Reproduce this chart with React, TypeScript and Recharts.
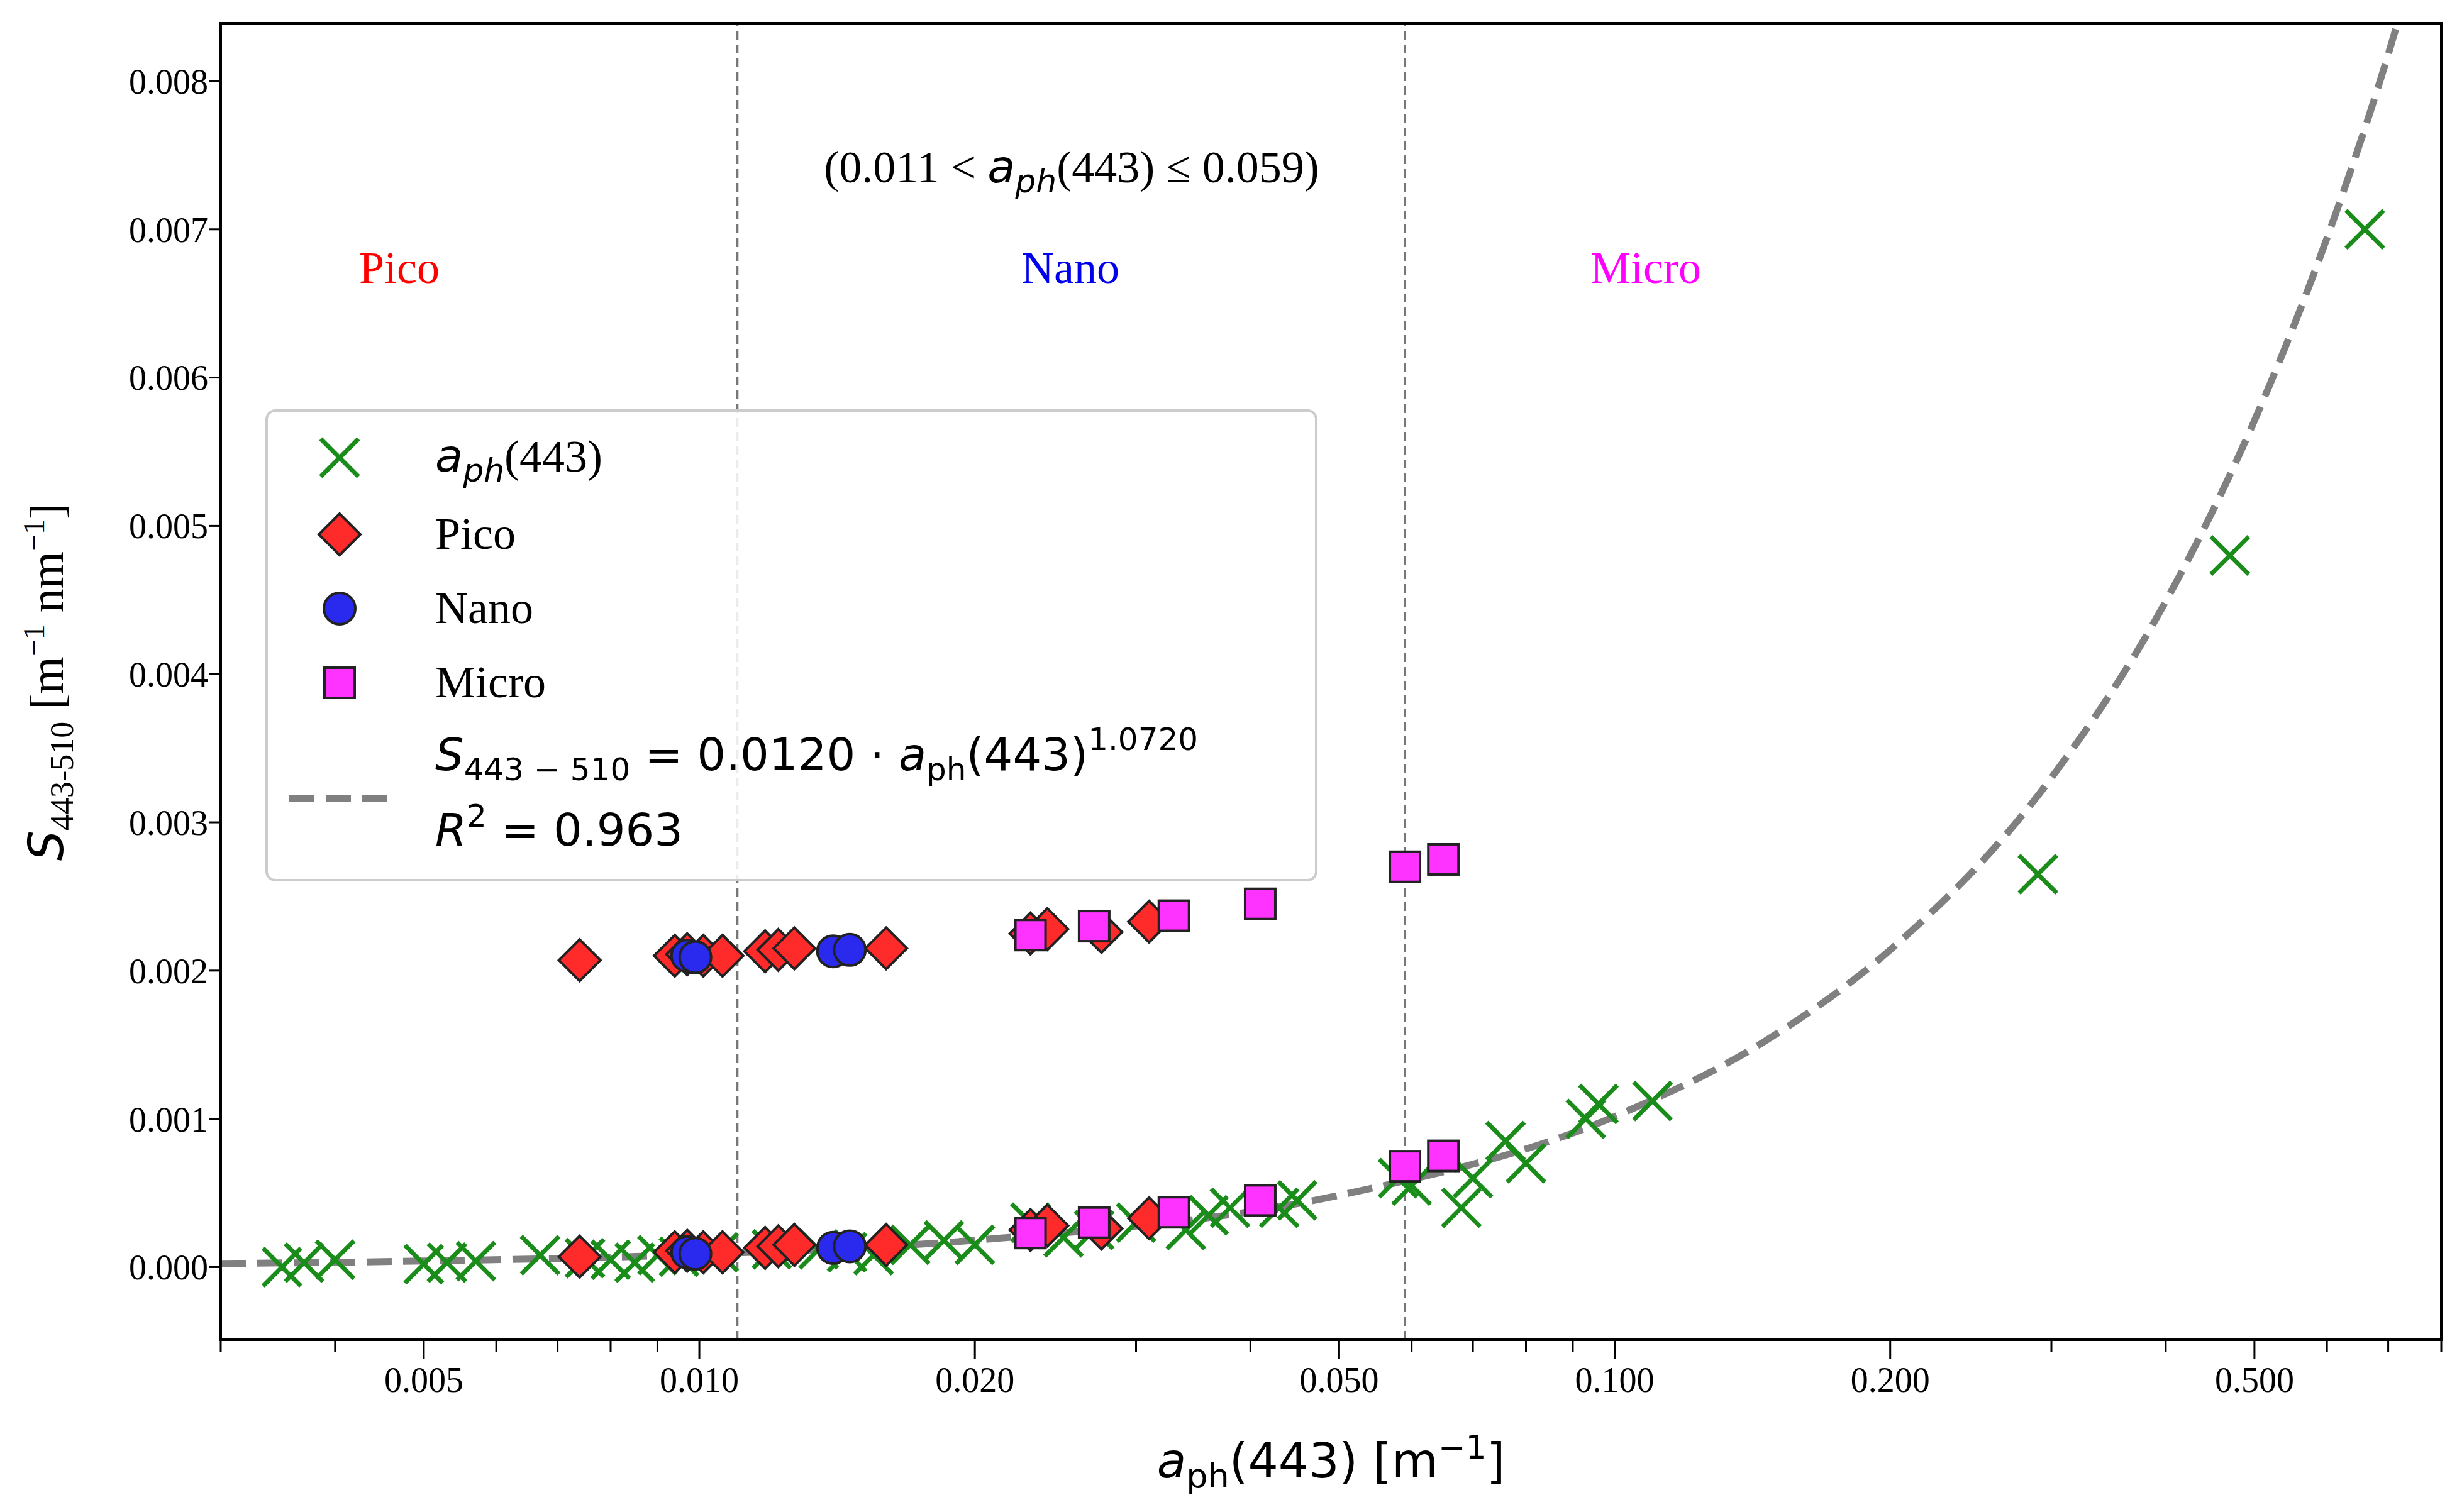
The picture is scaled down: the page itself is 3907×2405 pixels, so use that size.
import React from 'react';
import {
  ComposedChart,
  Scatter,
  Line,
  XAxis,
  YAxis,
  ReferenceLine,
} from 'recharts';

document.body.style.margin = '0';

const W = 3907;
const H = 2405;

const aphPoints = [
  [0.0035, 0.0], [0.0037, 0.00003], [0.004, 0.00005], [0.005, 0.00002], [0.0053, 0.00003],
  [0.0057, 0.00004], [0.0067, 0.00008], [0.0075, 0.00006], [0.008, 0.00005], [0.0085, 0.00003],
  [0.009, 0.00008], [0.0095, 0.00007], [0.0105, 0.0001], [0.012, 0.00012], [0.0135, 0.00012],
  [0.0145, 0.0001], [0.0155, 0.00008], [0.017, 0.00015], [0.0185, 0.00018], [0.02, 0.00015],
  [0.023, 0.0003], [0.025, 0.0002], [0.027, 0.00025], [0.03, 0.0003], [0.034, 0.00025],
  [0.036, 0.00035], [0.038, 0.0004], [0.043, 0.0004], [0.045, 0.00045], [0.058, 0.0006],
  [0.06, 0.00055], [0.068, 0.0004], [0.07, 0.0006], [0.076, 0.00085], [0.08, 0.0007],
  [0.093, 0.001], [0.096, 0.0011], [0.11, 0.00112], [0.29, 0.00265], [0.47, 0.0048], [0.66, 0.007],
];
const picoPoints = [
  [0.0074, 0.00207], [0.0094, 0.0021], [0.0097, 0.00211], [0.0101, 0.0021], [0.0106, 0.0021],
  [0.0118, 0.00213], [0.0122, 0.00214], [0.0127, 0.00215], [0.016, 0.00215], [0.023, 0.00225],
  [0.024, 0.00228], [0.0275, 0.00226], [0.031, 0.00233],
  [0.0074, 0.00007], [0.0094, 0.0001], [0.0097, 0.00011], [0.0101, 0.0001], [0.0106, 0.0001],
  [0.0118, 0.00013], [0.0122, 0.00014], [0.0127, 0.00015], [0.016, 0.00015], [0.023, 0.00025],
  [0.024, 0.00028], [0.0275, 0.00026], [0.031, 0.00033],
];
const nanoPoints = [
  [0.0097, 0.0021], [0.0099, 0.00209], [0.014, 0.00213], [0.0146, 0.00214],
  [0.0097, 0.0001], [0.0099, 0.00009], [0.014, 0.00013], [0.0146, 0.00014],
];
const microPoints = [
  [0.023, 0.00224], [0.027, 0.0023], [0.033, 0.00237], [0.041, 0.00245], [0.059, 0.0027], [0.065, 0.00275],
  [0.023, 0.00023], [0.027, 0.0003], [0.033, 0.00037], [0.041, 0.00045], [0.059, 0.00068], [0.065, 0.00075],
];
const fitPoints = [
  [0.003, 0.0000237], [0.005, 0.000041], [0.01, 0.000086], [0.02, 0.000181], [0.05, 0.000484],
  [0.1, 0.001016], [0.15, 0.00157], [0.2, 0.00214], [0.3, 0.0033], [0.4, 0.00449],
  [0.5, 0.00571], [0.6, 0.00694], [0.7, 0.00818], [0.75, 0.00882],
];

const xMajor = [0.005, 0.01, 0.02, 0.05, 0.1, 0.2, 0.5];
const xMajorLabels = ['0.005', '0.010', '0.020', '0.050', '0.100', '0.200', '0.500'];
const xMinor = [0.003, 0.004, 0.006, 0.007, 0.008, 0.009, 0.03, 0.04, 0.06, 0.07, 0.08, 0.09, 0.3, 0.4, 0.6, 0.7, 0.8];
const yTicks = [0, 0.001, 0.002, 0.003, 0.004, 0.005, 0.006, 0.007, 0.008];
const sizeBounds = [0.011, 0.059];

const toXY = (arr: number[][]) => arr.map(([x, y]) => ({ x, y }));
const serif = 'Liberation Serif';
const sans = 'DejaVu Sans';

const Cross = (p: any) => {
  const s = 30;
  return (
    <g stroke="#1a8c1a" strokeWidth={7}>
      <line x1={p.cx - s} y1={p.cy - s} x2={p.cx + s} y2={p.cy + s} />
      <line x1={p.cx - s} y1={p.cy + s} x2={p.cx + s} y2={p.cy - s} />
    </g>
  );
};
const Diamond = (p: any) => {
  const s = 33;
  return (
    <polygon
      points={`${p.cx},${p.cy - s} ${p.cx + s},${p.cy} ${p.cx},${p.cy + s} ${p.cx - s},${p.cy}`}
      fill="#ff2a2a" stroke="#222" strokeWidth={4}
    />
  );
};
const Dot = (p: any) => <circle cx={p.cx} cy={p.cy} r={25} fill="#2a2aee" stroke="#222" strokeWidth={4} />;
const Square = (p: any) => (
  <rect x={p.cx - 24} y={p.cy - 24} width={48} height={48} fill="#ff33ff" stroke="#222" strokeWidth={4} />
);

const XTick = (p: any) => {
  const v = p.payload.value;
  const i = xMajor.findIndex((m) => Math.abs(m - v) < 1e-9);
  const major = i >= 0;
  return (
    <g>
      <line x1={p.x} x2={p.x} y1={p.y - 8} y2={p.y + (major ? 22 : 12)} stroke="#000" strokeWidth={3} />
      {major && (
        <text x={p.x} y={p.y + 75} textAnchor="middle" fontFamily={serif} fontSize={56} fill="#000">
          {xMajorLabels[i]}
        </text>
      )}
    </g>
  );
};

const legendRows = [
  { key: 'aph', y: 728 },
  { key: 'pico', y: 850 },
  { key: 'nano', y: 968 },
  { key: 'micro', y: 1086 },
];

export default function App() {
  return (
    <div style={{ position: 'relative', width: W, height: H, background: '#fff' }}>
      <ComposedChart width={W} height={H} margin={{ top: 37, right: 25, left: 0, bottom: 0 }}>
        <XAxis
          dataKey="x" type="number" scale="log" domain={[0.003, 0.8]} allowDataOverflow
          ticks={[...xMajor, ...xMinor]} tick={<XTick />} tickLine={false} interval={0}
          height={274} stroke="#000" strokeWidth={3}
          label={{
            content: () => (
              <text x={(351 + 3882) / 2} y={2350} textAnchor="middle" fontSize={76} fontFamily={sans} fill="#000">
                <tspan fontStyle="italic">a</tspan>
                <tspan fontSize={54} dy={16}>ph</tspan>
                <tspan dy={-16}>(443) [m</tspan>
                <tspan fontSize={52} dy={-30}>−1</tspan>
                <tspan dy={30}>]</tspan>
              </text>
            ),
          }}
        />
        <YAxis
          dataKey="y" type="number" domain={[-0.00049, 0.00839]} allowDataOverflow
          ticks={yTicks} tickFormatter={(v: number) => v.toFixed(3)} width={351}
          stroke="#000" strokeWidth={3} tickSize={18}
          tick={{ fontFamily: serif, fontSize: 56, fill: '#000' }}
          label={{
            content: () => (
              <text transform="translate(100,1085) rotate(-90)" textAnchor="middle" fontSize={76} fontFamily={sans} fill="#000">
                <tspan fontStyle="italic">S</tspan>
                <tspan fontSize={52} fontFamily={serif} dy={16}>443-510</tspan>
                <tspan fontFamily={serif} dy={-16}> [m</tspan>
                <tspan fontSize={48} fontFamily={serif} dy={-30}>−1</tspan>
                <tspan fontFamily={serif} dy={30}> nm</tspan>
                <tspan fontSize={48} fontFamily={serif} dy={-30}>−1</tspan>
                <tspan fontFamily={serif} dy={30}>]</tspan>
              </text>
            ),
          }}
        />
        {sizeBounds.map((b) => (
          <ReferenceLine key={b} x={b} stroke="#777" strokeWidth={4} strokeDasharray="14 8" />
        ))}
        <Line data={toXY(fitPoints)} dataKey="y" type="monotone" stroke="#808080" strokeWidth={11}
          strokeDasharray="40 18" dot={false} isAnimationActive={false} />
        <Scatter data={toXY(aphPoints)} dataKey="y" shape={Cross} isAnimationActive={false} />
        <Scatter data={toXY(picoPoints)} dataKey="y" shape={Diamond} isAnimationActive={false} />
        <Scatter data={toXY(nanoPoints)} dataKey="y" shape={Dot} isAnimationActive={false} />
        <Scatter data={toXY(microPoints)} dataKey="y" shape={Square} isAnimationActive={false} />
      </ComposedChart>
      <svg width={W} height={H} style={{ position: 'absolute', left: 0, top: 0, pointerEvents: 'none' }}>
        <rect x={351} y={37} width={3531} height={2094} fill="none" stroke="#000" strokeWidth={4} />
        <text x={1704} y={290} textAnchor="middle" fontFamily={serif} fontSize={72} fill="#000">
          <tspan>(0.011 &lt; </tspan>
          <tspan fontFamily={sans} fontStyle="italic">a</tspan>
          <tspan fontFamily={sans} fontStyle="italic" fontSize={52} dy={16}>ph</tspan>
          <tspan dy={-16}>(443) ≤ 0.059)</tspan>
        </text>
        <text x={635} y={450} textAnchor="middle" fontFamily={serif} fontSize={72} fill="#ff0000">Pico</text>
        <text x={1702} y={450} textAnchor="middle" fontFamily={serif} fontSize={72} fill="#0000ee">Nano</text>
        <text x={2617} y={450} textAnchor="middle" fontFamily={serif} fontSize={72} fill="#ff00ff">Micro</text>
        <rect x={424} y={653} width={1669} height={747} rx={14} fill="#fff" fillOpacity={0.85} stroke="#ccc" strokeWidth={4} />
        {legendRows.map((r) => {
          const cx = 540;
          const sh =
            r.key === 'aph' ? <Cross cx={cx} cy={r.y} /> :
            r.key === 'pico' ? <Diamond cx={cx} cy={r.y} /> :
            r.key === 'nano' ? <Dot cx={cx} cy={r.y} /> : <Square cx={cx} cy={r.y} />;
          return <g key={r.key}>{sh}</g>;
        })}
        <text x={692} y={750} fontSize={72} fontFamily={serif} fill="#000">
          <tspan fontFamily={sans} fontStyle="italic">a</tspan>
          <tspan fontFamily={sans} fontStyle="italic" fontSize={52} dy={16}>ph</tspan>
          <tspan dy={-16}>(443)</tspan>
        </text>
        <text x={692} y={873} fontSize={72} fontFamily={serif} fill="#000">Pico</text>
        <text x={692} y={991} fontSize={72} fontFamily={serif} fill="#000">Nano</text>
        <text x={692} y={1109} fontSize={72} fontFamily={serif} fill="#000">Micro</text>
        <line x1={460} x2={620} y1={1270} y2={1270} stroke="#808080" strokeWidth={11} strokeDasharray="40 18" />
        <text x={692} y={1225} fontSize={72} fontFamily={sans} fill="#000">
          <tspan fontStyle="italic">S</tspan>
          <tspan fontSize={50} dy={16}>443 − 510</tspan>
          <tspan dy={-16}> = 0.0120 · </tspan>
          <tspan fontStyle="italic">a</tspan>
          <tspan fontSize={50} dy={16}>ph</tspan>
          <tspan dy={-16}>(443)</tspan>
          <tspan fontSize={50} dy={-32}>1.0720</tspan>
        </text>
        <text x={692} y={1345} fontSize={72} fontFamily={sans} fill="#000">
          <tspan fontStyle="italic">R</tspan>
          <tspan fontSize={50} dy={-30}>2</tspan>
          <tspan dy={30}> = 0.963</tspan>
        </text>
      </svg>
    </div>
  );
}
